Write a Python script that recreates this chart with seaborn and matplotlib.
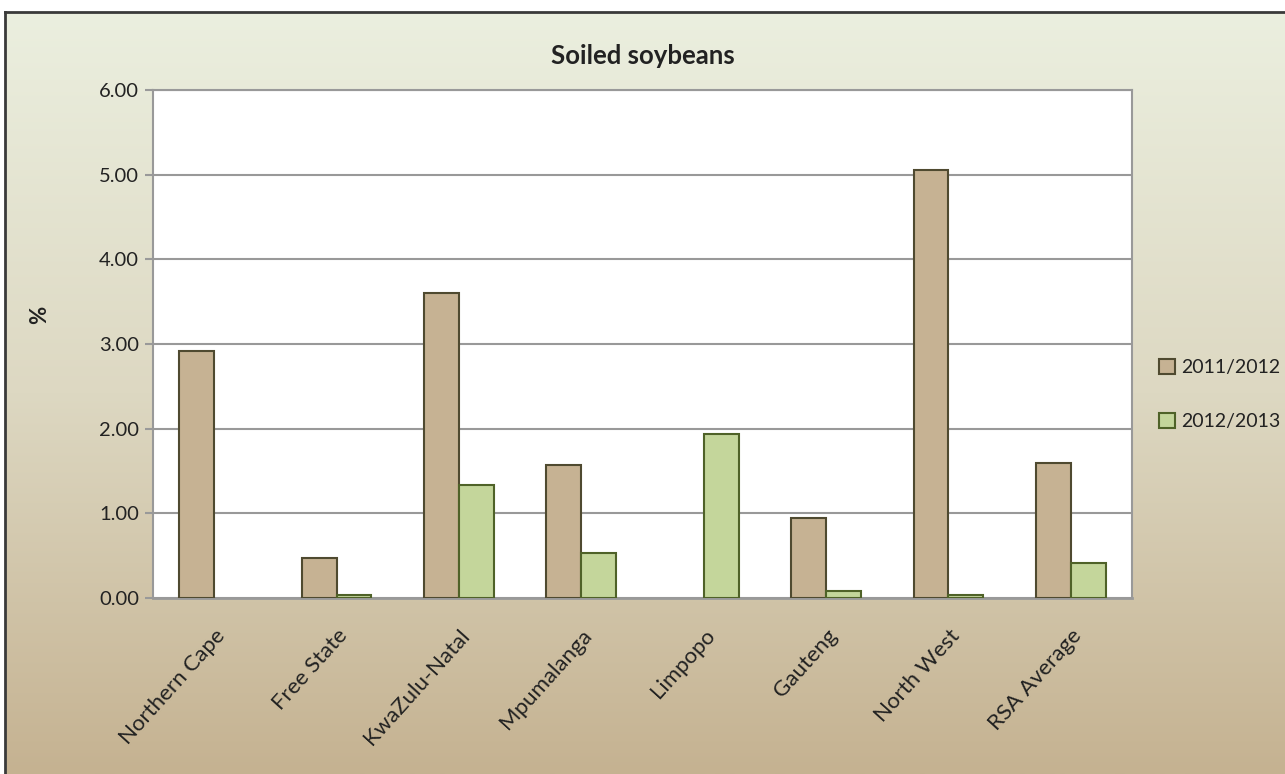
import numpy as np
import pandas as pd
import matplotlib
matplotlib.use("Agg")
import matplotlib.pyplot as plt
import seaborn as sns
from matplotlib.colors import LinearSegmentedColormap

categories = ["Northern Cape", "Free State", "KwaZulu-Natal", "Mpumalanga",
              "Limpopo", "Gauteng", "North West", "RSA Average"]
series_names = ["2011/2012", "2012/2013"]
values_2011 = [2.92, 0.47, 3.60, 1.57, 0.00, 0.95, 5.06, 1.60]
values_2012 = [0.00, 0.03, 1.33, 0.53, 1.94, 0.08, 0.04, 0.41]
yticks = [0, 1, 2, 3, 4, 5, 6]

df = pd.DataFrame({
    "Province": categories * 2,
    "Season": [series_names[0]] * len(categories) + [series_names[1]] * len(categories),
    "Value": values_2011 + values_2012,
})

sns.set_theme(style="white")
plt.rcParams["font.family"] = ["Lato", "DejaVu Sans"]

W, H = 1285, 774
fig = plt.figure(figsize=(W / 100, H / 100), dpi=100)
fig.patch.set_facecolor("white")

# gradient background panel
bg = fig.add_axes([5 / W, 0, 1 - 5 / W, 1 - 12 / H], zorder=0)
cmap = LinearSegmentedColormap.from_list("bg", ["#EBEFDF", "#DDD8C2", "#C5B291"])
grad = np.linspace(0, 1, 256).reshape(-1, 1)
bg.imshow(grad, aspect="auto", cmap=cmap, extent=[0, 1, 0, 1], origin="upper")
bg.set_xticks([]); bg.set_yticks([])
for s in ["right", "bottom"]:
    bg.spines[s].set_visible(False)
for s in ["left", "top"]:
    bg.spines[s].set_color("#3A3A3A")
    bg.spines[s].set_linewidth(2)

ax = fig.add_axes([153 / W, 1 - 598 / H, (1132 - 153) / W, (598 - 90) / H], zorder=1)
ax.set_facecolor("white")

fills = ["#C6B293", "#C4D69B"]
edges = ["#4F4A30", "#4F6228"]
sns.barplot(data=df, x="Province", y="Value", hue="Season", order=categories,
            hue_order=series_names, palette=fills, width=0.57, gap=0,
            saturation=1, ax=ax, legend=True)

for i, cont in enumerate(ax.containers):
    for p in cont.patches:
        p.set_edgecolor(edges[i])
        p.set_linewidth(1.5)
        p.set_zorder(3)
        if p.get_height() == 0:
            p.set_visible(False)

ax.set_ylim(0, 6)
ax.set_yticks(yticks)
ax.set_yticklabels([f"{v:.2f}" for v in yticks], fontsize=14.5, color="#222222")
ax.yaxis.grid(True, color="#999999", linewidth=1.5, zorder=0)
ax.set_axisbelow(True)
ax.tick_params(axis="y", which="both", left=True, length=6, width=1.5,
               color="#999999", pad=4)
ax.tick_params(axis="x", bottom=False, pad=14)
ax.set_xticks(range(len(categories)))
ax.set_xticklabels(categories, rotation=48, ha="right", rotation_mode="anchor",
                   fontsize=16, color="#222222")
for s in ax.spines.values():
    s.set_color("#999999")
    s.set_linewidth(1.5)
ax.spines["bottom"].set_linewidth(2)

ax.set_xlabel("")
ax.set_ylabel("")
fig.text(40 / W, 1 - 315 / H, "%", rotation=90, fontsize=16, fontweight="bold",
         color="#222222", ha="center", va="center")

ax.set_title("Soiled soybeans", fontsize=18.5, fontweight="bold", color="#222222", pad=19)

leg = ax.legend(loc="center left", bbox_to_anchor=(1.02, 0.40), frameon=False,
                fontsize=14, handlelength=0.8, handleheight=0.8,
                handletextpad=0.3, labelspacing=1.9, borderaxespad=0)
for h, e in zip(leg.legend_handles, edges):
    h.set_edgecolor(e)
    h.set_linewidth(1.5)
for t in leg.get_texts():
    t.set_color("#222222")

fig.savefig("out.png", dpi=100)
